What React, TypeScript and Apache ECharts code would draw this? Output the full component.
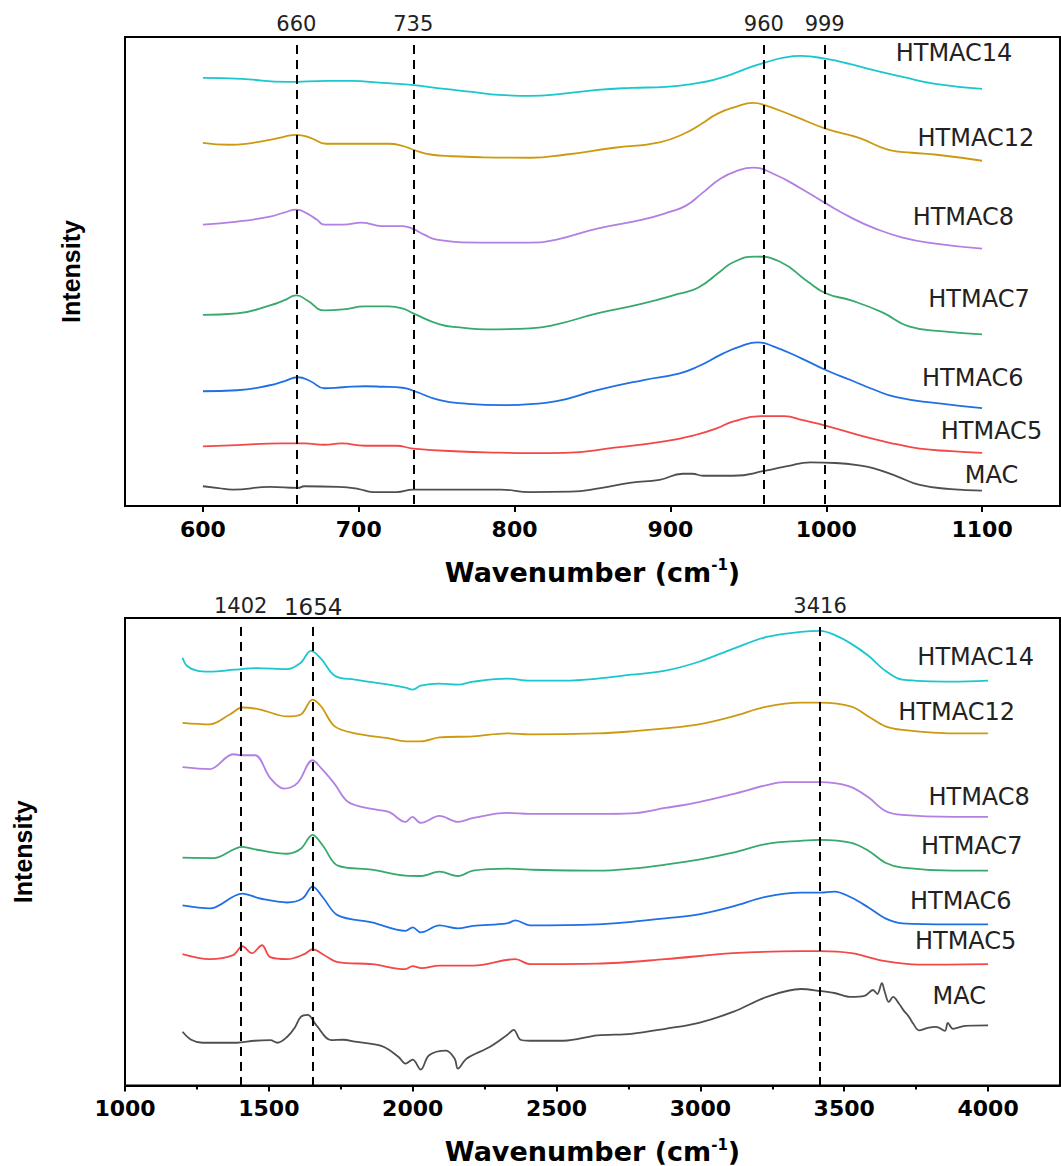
import React, { useEffect, useRef } from 'react';
import * as echarts from 'echarts';

const seriesNames = ['MAC', 'HTMAC5', 'HTMAC6', 'HTMAC7', 'HTMAC8', 'HTMAC12', 'HTMAC14'];
const seriesColors = ['#4f4f4f', '#f24848', '#1f6fe6', '#36a96b', '#b27fe2', '#cc9a10', '#1bc7ce'];

const topTicks = [600, 700, 800, 900, 1000, 1100];
const botTicks = [1000, 1500, 2000, 2500, 3000, 3500, 4000];
const botMinorTicks = [1250, 1750, 2250, 2750, 3250, 3750];
const topPeaks = [660, 735, 960, 999];
const botPeaks = [1402, 1654, 3416];

const topMAC = [[600,1.98],[610,1.8],[619,1.64],[643,1.91],[661,1.81],[665,1.98],[687,1.91],[700,1.7],[709,1.4],[724,1.4],[735,1.64],[770,1.64],[791,1.64],[810,1.4],[836,1.44],[855,1.8],[875,2.35],[893,2.62],[908,3.23],[914,3.23],[921,3.03],[940,3.03],[962,3.57],[975,4.0],[990,4.38],[1006,4.31],[1020,4.1],[1030,3.8],[1045,3.0],[1060,2.11],[1080,1.7],[1100,1.54]];
const topHTMAC5 = [[600,5.97],[622,6.1],[650,6.27],[665,6.27],[678,6.14],[689,6.27],[704,6.04],[724,6.04],[735,5.76],[765,5.46],[790,5.35],[810,5.3],[832,5.33],[864,5.84],[897,6.5],[918,7.2],[930,7.8],[940,8.45],[958,9.0],[973,9.0],[985,8.6],[1000,8.04],[1027,6.85],[1045,6.2],[1060,5.74],[1080,5.5],[1100,5.33]];
const topHTMAC6 = [[600,11.5],[622,11.6],[643,12.1],[652,12.5],[661,12.9],[669,12.5],[678,11.8],[690,11.9],[704,12.0],[715,11.95],[728,11.85],[735,11.55],[752,10.6],[769,10.25],[793,10.1],[810,10.2],[827,10.5],[853,11.6],[882,12.6],[906,13.3],[918,14.0],[934,15.3],[945,16.0],[956,16.4],[966,16.0],[984,14.8],[1000,13.6],[1016,12.6],[1030,11.7],[1045,10.9],[1071,10.3],[1100,9.8]];
const topHTMAC7 = [[600,19.15],[622,19.3],[643,20.1],[652,20.6],[660,21.1],[667,20.6],[678,19.6],[690,19.7],[704,20.0],[719,20.0],[728,19.8],[735,19.3],[752,18.2],[765,17.9],[782,17.7],[810,17.8],[827,18.2],[853,19.3],[880,20.2],[905,21.25],[918,21.9],[932,23.5],[940,24.4],[954,25.0],[970,24.5],[988,22.5],[1000,21.3],[1016,20.6],[1036,19.4],[1053,18.0],[1075,17.5],[1100,17.2]];
const topHTMAC8 = [[600,28.2],[622,28.5],[643,29.0],[652,29.4],[660,29.7],[667,29.3],[673,28.7],[678,28.2],[690,28.2],[702,28.4],[715,28.05],[728,28.05],[735,27.75],[742,27.2],[750,26.7],[778,26.4],[810,26.4],[827,26.7],[853,27.8],[882,28.7],[900,29.5],[910,30.1],[920,31.3],[932,32.8],[943,33.6],[953,33.9],[966,33.3],[984,31.8],[1000,30.3],[1016,28.9],[1030,27.9],[1049,26.9],[1070,26.3],[1100,25.8]];
const topHTMAC12 = [[600,36.4],[617,36.2],[630,36.35],[643,36.7],[652,37.0],[660,37.2],[669,36.9],[679,36.3],[697,36.3],[719,36.3],[728,36.1],[735,35.7],[747,35.2],[760,35.05],[778,34.95],[810,34.9],[832,35.2],[864,35.9],[893,36.45],[910,37.4],[920,38.3],[930,39.3],[942,40.0],[953,40.4],[960,40.2],[979,39.1],[1000,37.8],[1021,36.9],[1040,35.7],[1055,35.4],[1071,35.2],[1100,34.6]];
const topHTMAC14 = [[600,42.9],[625,42.8],[654,42.5],[680,42.6],[695,42.6],[715,42.4],[734,42.2],[755,41.8],[773,41.5],[790,41.2],[810,41.1],[830,41.3],[853,41.7],[875,41.9],[897,42.0],[918,42.4],[930,42.8],[940,43.3],[950,43.9],[960,44.4],[972,44.9],[984,45.1],[1000,44.8],[1015,44.3],[1027,43.8],[1049,43.0],[1070,42.3],[1100,41.8]];

const botMAC = [[1200,5.4],[1230,4.6],[1270,4.3],[1388,4.3],[1450,4.5],[1505,4.56],[1530,4.3],[1564,4.9],[1590,5.8],[1611,6.9],[1635,7.1],[1664,6.1],[1717,4.56],[1760,4.6],[1799,4.4],[1893,3.95],[1950,2.9],[1975,2.2],[2000,2.6],[2028,1.6],[2057,3.04],[2116,3.5],[2146,2.7],[2157,1.7],[2187,2.7],[2269,3.9],[2328,5.07],[2351,5.6],[2375,4.6],[2407,4.5],[2525,4.5],[2642,5.04],[2760,5.2],[2878,5.7],[2995,6.3],[3113,7.4],[3231,8.9],[3349,9.7],[3417,9.5],[3466,9.3],[3525,8.9],[3570,9.0],[3600,9.6],[3615,9.2],[3631,10.3],[3640,9.5],[3655,8.4],[3670,8.9],[3690,8.25],[3705,7.6],[3725,6.9],[3740,6.2],[3760,5.55],[3790,5.8],[3819,5.9],[3850,5.5],[3860,6.3],[3878,5.7],[3920,6.0],[4000,6.05]];
const botHTMAC5 = [[1200,13.2],[1294,12.7],[1376,13.1],[1408,14.0],[1441,13.3],[1476,14.1],[1505,12.9],[1564,12.7],[1623,13.2],[1652,13.7],[1693,13.1],[1740,12.4],[1858,12.2],[1975,11.7],[2000,12.0],[2030,11.8],[2093,12.06],[2210,12.06],[2357,12.7],[2407,12.2],[2642,12.25],[2878,12.7],[3113,13.3],[3349,13.5],[3417,13.5],[3525,13.3],[3643,12.5],[3760,12.15],[4000,12.2]];
const botHTMAC6 = [[1200,18.1],[1294,17.8],[1408,19.3],[1470,18.8],[1564,18.4],[1617,18.8],[1652,20.0],[1688,18.9],[1740,17.1],[1858,16.4],[1975,15.55],[2000,15.9],[2028,15.4],[2093,16.1],[2157,15.8],[2210,16.05],[2328,16.3],[2357,16.6],[2407,16.1],[2642,16.2],[2760,16.45],[2878,16.8],[2995,17.2],[3113,18.0],[3231,19.0],[3349,19.4],[3417,19.4],[3466,19.5],[3525,18.9],[3584,17.9],[3643,16.8],[3702,16.3],[3878,16.2],[4000,16.2]];
const botHTMAC7 = [[1200,22.9],[1306,22.86],[1408,24.0],[1458,23.7],[1564,23.3],[1611,23.8],[1652,25.2],[1688,24.1],[1740,22.1],[1858,21.7],[1975,21.1],[2028,21.06],[2093,21.5],[2157,21.06],[2210,21.6],[2328,21.8],[2407,21.7],[2642,21.6],[2760,21.8],[2878,22.2],[2995,22.7],[3113,23.4],[3231,24.3],[3349,24.6],[3417,24.7],[3525,24.4],[3584,23.6],[3643,22.4],[3702,21.9],[3878,21.6],[4000,21.6]];
const botHTMAC8 = [[1200,32.0],[1294,31.8],[1376,33.3],[1408,33.2],[1452,33.2],[1505,30.9],[1552,29.85],[1599,30.4],[1652,32.7],[1682,31.9],[1729,30.3],[1776,28.5],[1858,27.8],[1917,27.5],[1975,26.5],[1999,27.0],[2028,26.4],[2093,27.1],[2157,26.5],[2210,26.9],[2328,27.4],[2407,27.3],[2642,27.3],[2760,27.35],[2878,27.9],[2995,28.5],[3113,29.3],[3231,30.2],[3290,30.5],[3417,30.5],[3466,30.4],[3525,30.0],[3584,28.97],[3643,27.6],[3702,27.2],[3878,27.0],[4000,27.0]];
const botHTMAC12 = [[1200,36.45],[1294,36.3],[1364,37.3],[1408,38.0],[1470,37.8],[1564,37.1],[1611,37.3],[1652,38.8],[1682,38.1],[1729,36.1],[1799,35.4],[1917,34.9],[1975,34.6],[2028,34.6],[2093,35.0],[2210,35.1],[2328,35.4],[2407,35.3],[2642,35.4],[2760,35.6],[2878,35.9],[2995,36.3],[3113,37.1],[3231,38.1],[3349,38.5],[3417,38.5],[3525,38.1],[3584,37.1],[3643,36.1],[3702,35.75],[3878,35.4],[4000,35.4]];
const botHTMAC14 = [[1200,43.0],[1215,42.2],[1250,41.7],[1294,41.6],[1380,41.8],[1458,41.96],[1564,41.86],[1611,42.5],[1646,43.7],[1682,42.9],[1729,41.2],[1799,40.8],[1917,40.3],[1975,40.0],[2000,39.8],[2028,40.2],[2093,40.4],[2157,40.3],[2210,40.6],[2328,40.9],[2407,40.7],[2525,40.7],[2642,40.9],[2760,41.3],[2878,41.7],[2995,42.6],[3113,43.9],[3231,45.1],[3349,45.6],[3417,45.7],[3466,45.3],[3525,44.4],[3584,43.2],[3643,41.7],[3702,40.8],[3878,40.6],[4000,40.7]];

const topData = [topMAC, topHTMAC5, topHTMAC6, topHTMAC7, topHTMAC8, topHTMAC12, topHTMAC14];
const botData = [botMAC, botHTMAC5, botHTMAC6, botHTMAC7, botHTMAC8, botHTMAC12, botHTMAC14];

// label anchor positions in data units (x wavenumber, y intensity)
const topLabelAt = [[1106, 3.1], [1106, 7.5], [1094, 12.8], [1098, 20.7], [1088, 29.0], [1096, 36.9], [1082, 45.35]];
const botLabelAt = [[3900, 9.0], [3922, 14.5], [3905, 18.5], [3943, 24.1], [3969, 29.0], [3891, 37.5], [3957, 43.1]];

const TICK_FONT = { fontFamily: 'DejaVu Sans', fontWeight: 'bold', fontSize: 22, color: '#000' };

function xAxisFor(gridIndex: number, min: number, max: number, ticks: number[]) {
  return {
    type: 'value', gridIndex, min, max, position: 'bottom',
    axisLine: { show: true, lineStyle: { color: '#000', width: 2 } },
    axisTick: { show: true, inside: false, length: 6, lineStyle: { color: '#000', width: 2 }, customValues: ticks },
    axisLabel: { show: true, margin: 12, ...TICK_FONT, customValues: ticks, formatter: (v: number) => String(v) },
    splitLine: { show: false },
    name: '{a|Wavenumber (cm}{s|-1}{a|)}',
    nameLocation: 'middle',
    nameGap: 50,
    nameTextStyle: {
      rich: {
        a: { fontFamily: 'DejaVu Sans', fontWeight: 'bold', fontSize: 27, color: '#000', lineHeight: 32 },
        s: { fontFamily: 'DejaVu Sans', fontWeight: 'bold', fontSize: 15, color: '#000', padding: [0, 0, 14, 0] },
      },
    },
  };
}

function yAxisFor(gridIndex: number, gap: number) {
  return {
    type: 'value', gridIndex, min: 0, max: 47,
    axisLine: { show: true, lineStyle: { color: '#000', width: 2 } },
    axisTick: { show: false }, axisLabel: { show: false }, splitLine: { show: false },
    name: 'Intensity', nameLocation: 'middle', nameGap: gap,
    nameTextStyle: { fontFamily: 'Liberation Sans', fontWeight: 'bold', fontSize: 25, color: '#000' },
  };
}

function peakLines(peaks: number[], top: number, bigIdx: number) {
  return {
    silent: true,
    symbol: ['none', 'none'],
    animation: false,
    lineStyle: { color: '#000', type: [9, 6], width: 2 },
    label: { show: true, position: 'start', distance: 10, formatter: '{b}', fontFamily: 'DejaVu Sans', fontSize: 21, color: '#222' },
    data: peaks.map((p, i) => [
      { name: String(p), coord: [p, top], label: i === bigIdx ? { fontSize: 23, distance: 8 } : undefined },
      { coord: [p, 0] },
    ]),
  };
}

export default function App() {
  const ref = useRef<HTMLDivElement>(null);
  useEffect(() => {
    document.body.style.margin = '0';
    const chart = echarts.init(ref.current!, null, { renderer: 'svg' });
    const series: any[] = [];
    [topData, botData].forEach((group, g) => {
      group.forEach((d, i) => {
        const lab = (g === 0 ? topLabelAt : botLabelAt)[i];
        const s: any = {
          type: 'line', name: seriesNames[i] + (g ? ' b' : ''),
          xAxisIndex: g, yAxisIndex: g,
          data: d, showSymbol: false, symbol: 'none',
          smooth: g === 0 ? 0.5 : 0.35,
          lineStyle: { color: seriesColors[i], width: 1.8 },
          itemStyle: { color: seriesColors[i] },
          z: 3,
          markPoint: {
            silent: true, symbol: 'circle', symbolSize: 1,
            itemStyle: { color: 'rgba(0,0,0,0)' },
            label: { show: true, position: 'inside', formatter: '{b}', fontFamily: 'DejaVu Sans', fontSize: 24, color: '#222' },
            data: [{ name: seriesNames[i], coord: lab }],
          },
        };
        if (i === 0) s.markLine = g === 0 ? peakLines(topPeaks, 46.2, -1) : peakLines(botPeaks, 46.1, 1);
        series.push(s);
      });
    });
    // minor ticks for the lower axis
    const minorAxis = {
      type: 'value', gridIndex: 1, min: 1000, max: 4250, position: 'bottom', offset: 0,
      axisLine: { show: false },
      axisTick: { show: true, inside: false, length: 4, lineStyle: { color: '#000', width: 2 }, customValues: botMinorTicks },
      axisLabel: { show: false, customValues: botMinorTicks },
      splitLine: { show: false },
    };
    chart.setOption({
      animation: false,
      backgroundColor: '#fff',
      grid: [
        { left: 125, top: 37, width: 935, height: 469, show: true, borderColor: '#000', borderWidth: 2, backgroundColor: 'transparent' },
        { left: 125, top: 618, width: 935, height: 470, show: true, borderColor: '#000', borderWidth: 2, backgroundColor: 'transparent' },
      ],
      xAxis: [xAxisFor(0, 550, 1150, topTicks), xAxisFor(1, 1000, 4250, botTicks), minorAxis],
      yAxis: [yAxisFor(0, 42), yAxisFor(1, 90)],
      series,
    });
    return () => chart.dispose();
  }, []);
  return <div ref={ref} style={{ width: 1061, height: 1166 }} />;
}
